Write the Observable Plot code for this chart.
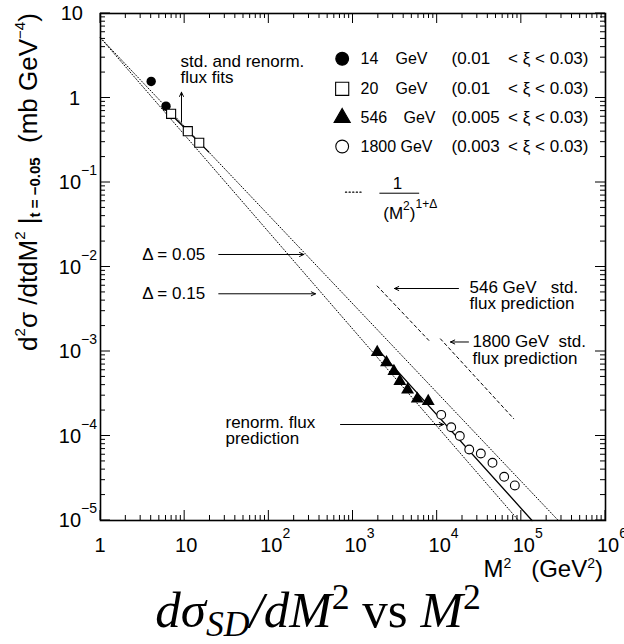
<!DOCTYPE html>
<html>
<head>
<meta charset="utf-8">
<script src="https://cdn.jsdelivr.net/npm/d3@7"></script>
<script src="https://cdn.jsdelivr.net/npm/@observablehq/plot@0.6"></script>
<style>
  body { margin: 0; background: #fff; width: 624px; height: 644px; overflow: hidden; position: relative; }
  #chart svg { display: block; }
  #title {
    position: absolute; left: 6px; top: 585px; width: 624px; text-align: center;
    font-family: "Liberation Serif", "DejaVu Serif", serif; font-size: 51px; line-height: 51px; color: #000;
    white-space: nowrap;
  }
  #title sub { font-size: 0.7em; line-height: 0; vertical-align: -0.24em; }
  #title sup { font-size: 0.7em; line-height: 0; vertical-align: 0.5em; }
</style>
</head>
<body>
<div id="chart"></div>
<div id="title"><i>dσ</i><sub><i>SD</i></sub><i>/dM</i><sup>2</sup> vs <i>M</i><sup>2</sup></div>
<script>
// ---- measured single-diffractive cross sections d²σ/dtdM² at t = -0.05 (mb GeV⁻⁴) ----
// 14 GeV, 0.01 < ξ < 0.03
const m2_14 = [4.0, 6.0];
const ds_14 = [1.57, 0.80];
// 20 GeV, 0.01 < ξ < 0.03
const m2_20 = [6.9, 10.9, 14.9];
const ds_20 = [0.65, 0.405, 0.295];
// 546 GeV, 0.005 < ξ < 0.03
const m2_546 = [1940, 2500, 3060, 3600, 4450, 5800, 7830];
const ds_546 = [9.8e-4, 7.4e-4, 5.85e-4, 4.45e-4, 3.52e-4, 2.75e-4, 2.58e-4];
// 1800 GeV, 0.003 < ξ < 0.03
const m2_1800 = [11170, 14680, 18580, 24040, 33030, 45430, 62520, 83700];
const ds_1800 = [1.78e-4, 1.27e-4, 1.0e-4, 6.92e-5, 6.21e-5, 4.82e-5, 3.29e-5, 2.6e-5];

// ---- 1/(M²)^(1+Δ) reference lines (end points) ----
const delta005_m2 = [1, 2.75e5];
const delta005_ds = [5.15, 1e-5];
const delta015_m2 = [1, 9.27e4];
const delta015_ds = [5.15, 1e-5];

// ---- renormalized flux fits / predictions (solid) ----
const renormLow_m2 = [6.2, 19.4];
const renormLow_ds = [0.71, 0.229];
const renormHigh_m2 = [1940, 1.34e5];
const renormHigh_ds = [1.08e-3, 1e-5];

// ---- standard flux predictions (dashed) ----
const std546_m2 = [1937, 8330];
const std546_ds = [5.96e-3, 1.29e-3];
const std1800_m2 = [10950, 81300];
const std1800_ds = [1.41e-3, 1.6e-4];

// ---- axes ----
const xTickExponents = [0, 1, 2, 3, 4, 5, 6];
const yTickExponents = [-5, -4, -3, -2, -1, 0, 1];

// ---- legend ----
const legendEnergy = ["14", "20", "546", "1800"];
const legendXiLow = ["(0.01", "(0.01", "(0.005", "(0.003"];
const legendXiHigh = ["< ξ < 0.03)", "< ξ < 0.03)", "< ξ < 0.03)", "< ξ < 0.03)"];
const legendSymbols = ["circle", "square", "triangle", "circle"];
const legendFilled = [true, false, true, false];
const legendRowY = [2.911, 1.285, 0.5831, 0.2667];
const legendGevX = [3197, 3197, 3981, 3666];

const rows = (xs, ys) => xs.map((x, i) => ({x, y: ys[i]}));
const font = "'Liberation Sans', Arial, Helvetica, sans-serif";

const majorX = xTickExponents.map(e => 10 ** e);
const minorX = d3.range(0, 6).flatMap(e => d3.range(2, 10).map(m => m * 10 ** e));
const majorY = yTickExponents.map(e => 10 ** e);
const minorY = d3.range(-5, 1).flatMap(e => d3.range(2, 10).map(m => m * 10 ** e));

// annotation texts and arrows, placed in data coordinates (M², dσ)
const notes = [
  {x: 8.92, y: 2.70, text: "std. and renorm."},
  {x: 8.92, y: 1.748, text: "flux fits"},
  {x: 3.13, y: 0.01406, text: "Δ = 0.05"},
  {x: 3.13, y: 0.004819, text: "Δ = 0.15"},
  {x: 24210, y: 0.00572, text: "546 GeV   std."},
  {x: 24210, y: 0.003698, text: "flux prediction"},
  {x: 26280, y: 0.001296, text: "1800 GeV  std."},
  {x: 26280, y: 8.26e-4, text: "flux prediction"},
  {x: 30.56, y: 1.456e-4, text: "renorm. flux"},
  {x: 30.56, y: 9.27e-5, text: "prediction"}
];
const arrows = [
  {x1: 9.17, y1: 0.517, x2: 9.17, y2: 1.171},
  {x1: 25.4, y1: 0.01406, x2: 260.3, y2: 0.01406},
  {x1: 25.4, y1: 0.004819, x2: 358.4, y2: 0.004819},
  {x1: 17920, y1: 0.005566, x2: 3112, y2: 0.005566},
  {x1: 23560, y1: 0.001296, x2: 14400, y2: 0.001296},
  {x1: 710.2, y1: 1.368e-4, x2: 11890, y2: 1.368e-4}
];

const legendRows = legendEnergy.map((e, i) => ({
  e, lo: legendXiLow[i], hi: legendXiHigh[i], symbol: legendSymbols[i], filled: legendFilled[i],
  y: legendRowY[i], gevX: legendGevX[i]
}));

const plot = Plot.plot({
  width: 624,
  height: 590,
  marginLeft: 100,
  marginRight: 19,
  marginTop: 13,
  marginBottom: 70,
  style: {fontFamily: font, background: "white", color: "black"},
  x: {type: "log", domain: [1, 1e6], axis: null},
  y: {type: "log", domain: [1e-5, 10], axis: null},
  r: {type: "identity"},
  marks: [
    Plot.frame({stroke: "black", strokeWidth: 1.6}),

    // power-law reference lines
    Plot.line(rows(delta005_m2, delta005_ds), {x: "x", y: "y", stroke: "black", strokeWidth: 1, strokeDasharray: "1,2"}),
    Plot.line(rows(delta015_m2, delta015_ds), {x: "x", y: "y", stroke: "black", strokeWidth: 1, strokeDasharray: "1,2"}),
    // standard flux predictions
    Plot.line(rows(std546_m2, std546_ds), {x: "x", y: "y", stroke: "black", strokeWidth: 1, strokeDasharray: "3,3"}),
    Plot.line(rows(std1800_m2, std1800_ds), {x: "x", y: "y", stroke: "black", strokeWidth: 1, strokeDasharray: "3,3"}),
    // renormalized flux
    Plot.line(rows(renormLow_m2, renormLow_ds), {x: "x", y: "y", stroke: "black", strokeWidth: 1.3}),
    Plot.line(rows(renormHigh_m2, renormHigh_ds), {x: "x", y: "y", stroke: "black", strokeWidth: 1.3}),

    // data
    Plot.dot(rows(m2_14, ds_14), {x: "x", y: "y", symbol: "circle", r: 4.7, fill: "black"}),
    Plot.dot(rows(m2_20, ds_20), {x: "x", y: "y", symbol: "square", r: 5.1, fill: "white", stroke: "black", strokeWidth: 1.1}),
    Plot.dot(rows(m2_546, ds_546), {x: "x", y: "y", symbol: "triangle", r: 4.8, fill: "black"}),
    Plot.dot(rows(m2_1800, ds_1800), {x: "x", y: "y", symbol: "circle", r: 4.4, fill: "white", stroke: "black", strokeWidth: 1.1}),

    // annotations
    Plot.arrow(arrows, {x1: "x1", y1: "y1", x2: "x2", y2: "y2", stroke: "black", strokeWidth: 1, headLength: 7, headAngle: 50}),
    Plot.text(notes, {x: "x", y: "y", text: "text", textAnchor: "start", lineAnchor: "middle", fontSize: 17, fill: "black"}),

    // legend
    Plot.dot(legendRows, {x: 743.9, y: "y", symbol: "symbol",
      r: d => d.symbol === "triangle" ? 6 : d.symbol === "square" ? 7.4 : 6.4,
      fill: d => d.filled ? "black" : "white", stroke: "black", strokeWidth: 1.1}),
    Plot.text(legendRows, {x: 1227, y: "y", text: "e", textAnchor: "start", lineAnchor: "middle", fontSize: 16, fill: "black"}),
    Plot.text(legendRows, {x: "gevX", y: "y", text: () => "GeV", textAnchor: "start", lineAnchor: "middle", fontSize: 16, fill: "black"}),
    Plot.text(legendRows, {x: 14800, y: "y", text: "lo", textAnchor: "start", lineAnchor: "middle", fontSize: 17, fill: "black"}),
    Plot.text(legendRows, {x: 6.28e5, y: "y", text: "hi", textAnchor: "end", lineAnchor: "middle", fontSize: 17, fill: "black"}),
    // legend entry for the dotted lines: sample, numerator and fraction bar
    Plot.line(rows([814, 1297], [0.0768, 0.0768]), {x: "x", y: "y", stroke: "black", strokeWidth: 1.2, strokeDasharray: "1.2,2.4"}),
    Plot.text([{x: 3378, y: 0.09652}], {x: "x", y: "y", text: () => "1", textAnchor: "middle", lineAnchor: "middle", fontSize: 17, fill: "black"}),
    Plot.line(rows([2081, 6049], [0.0747, 0.0747]), {x: "x", y: "y", stroke: "black", strokeWidth: 1})
  ]
});

document.getElementById("chart").append(plot);

// ---- ticks and rich-text labels, positioned through the plot's scales ----
const sx = plot.scale("x"), sy = plot.scale("y");
const svg = d3.select(plot);
const plotBottom = sy.apply(1e-5), plotTop = sy.apply(10), plotLeft = sx.apply(1), plotRight = sx.apply(1e6);

// inward-pointing ticks on all four sides of the frame
const ticks = svg.append("g").attr("stroke", "black").attr("stroke-width", 1);
for (const [values, len] of [[majorX, 10], [minorX, 5]]) {
  for (const v of values) {
    const px = sx.apply(v);
    ticks.append("line").attr("x1", px).attr("x2", px).attr("y1", plotBottom).attr("y2", plotBottom - len);
    ticks.append("line").attr("x1", px).attr("x2", px).attr("y1", plotTop).attr("y2", plotTop + len);
  }
}
for (const [values, len] of [[majorY, 10], [minorY, 5]]) {
  for (const v of values) {
    const py = sy.apply(v);
    ticks.append("line").attr("y1", py).attr("y2", py).attr("x1", plotLeft).attr("x2", plotLeft + len);
    ticks.append("line").attr("y1", py).attr("y2", py).attr("x1", plotRight).attr("x2", plotRight - len);
  }
}

const layer = svg.append("g").attr("font-family", font).attr("fill", "black");

function rich(parts, {x, y, size, anchor = "start", rotate = 0}) {
  const t = layer.append("text")
    .attr("transform", `translate(${x},${y})` + (rotate ? ` rotate(${rotate})` : ""))
    .attr("text-anchor", anchor)
    .attr("font-size", size)
    .style("white-space", "pre");
  let shift = 0;
  for (const p of parts) {
    const target = -(p.rise || 0);
    const s = t.append("tspan").attr("dy", target - shift).text(p.text);
    if (p.size) s.attr("font-size", p.size);
    if (p.weight) s.attr("font-weight", p.weight);
    shift = target;
  }
  return t;
}

const labelSize = 20, expSize = 14, expRise = 14;

// x tick labels
for (const e of xTickExponents) {
  const px = sx.apply(10 ** e);
  const base = e === 0 ? "1" : "10";
  const baseline = plotBottom + 32;
  if (e < 2) {
    rich([{text: base}], {x: px + (e === 1 ? 2 : 0), y: baseline, size: labelSize, anchor: "middle"});
  } else {
    const w = labelSize * 1.112;
    rich([{text: base}, {text: String(e), size: expSize, rise: expRise}], {x: px + 3 - w / 2, y: baseline, size: labelSize});
  }
}
// y tick labels
for (const e of yTickExponents) {
  const py = sy.apply(10 ** e) + labelSize * 0.36;
  if (e === 0) rich([{text: "1"}], {x: plotLeft - 20, y: py, size: labelSize, anchor: "end"});
  else if (e === 1) rich([{text: "10"}], {x: plotLeft - 17, y: py, size: labelSize, anchor: "end"});
  else rich([{text: "10"}, {text: "\u2212" + (-e), size: expSize, rise: expRise}], {x: plotLeft - 3, y: py, size: labelSize, anchor: "end"});
}

// axis titles
rich([
  {text: "d"}, {text: "2", size: 15, rise: 12}, {text: "σ /dtdM"}, {text: "2", size: 15, rise: 12},
  {text: " |"}, {text: "t = \u22120.05", size: 15, rise: -3, weight: "bold"},
  {text: "  (mb GeV"}, {text: "\u22124", size: 15, rise: 12}, {text: ")"}
], {x: 37, y: 182, size: 26, anchor: "middle", rotate: -90});

rich([
  {text: "M"}, {text: "2", size: 14, rise: 9}, {text: "   (GeV"}, {text: "2", size: 14, rise: 9}, {text: ")"}
], {x: 603, y: plotBottom + 57, size: 24, anchor: "end"});

// denominator of the legend fraction: (M²)^(1+Δ)
rich([
  {text: "(M"}, {text: "2", size: 12, rise: 9}, {text: ")"}, {text: "1+Δ", size: 12, rise: 11}
], {x: sx.apply(2322), y: sy.apply(0.04262) + 6, size: 17});
</script>
</body>
</html>
